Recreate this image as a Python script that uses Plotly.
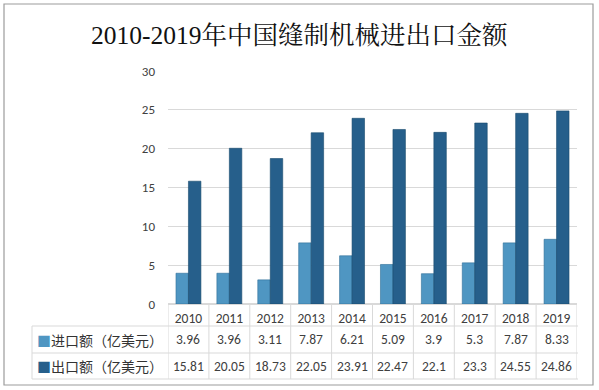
import plotly.graph_objects as go

years = ["2010", "2011", "2012", "2013", "2014", "2015", "2016", "2017", "2018", "2019"]
imports = [3.96, 3.96, 3.11, 7.87, 6.21, 5.09, 3.9, 5.3, 7.87, 8.33]
exports = [15.81, 20.05, 18.73, 22.05, 23.91, 22.47, 22.1, 23.3, 24.55, 24.86]
series_names = ["进口额（亿美元）", "出口额（亿美元）"]
title = "2010-2019年中国缝制机械进出口金额"

W, H = 599, 390
L, R, T, B = 168, 22, 71, 86
pw, ph = W - L - R, H - T - B

def px(x):
    return (x - L) / pw

def py(y):
    return (H - B - y) / ph

c_imp = "#4f96c2"
c_exp = "#265f8b"
grid = "#d9d9d9"
tfont = "Calibri, Carlito, 'Noto Sans CJK SC', 'Open Sans', sans-serif"

n = len(years)
idx = list(range(n))

fig = go.Figure()
fig.add_bar(x=idx, y=imports, name=series_names[0], marker=dict(color=c_imp, line=dict(color="#2f6f98", width=0.6)))
fig.add_bar(x=idx, y=exports, name=series_names[1], marker=dict(color=c_exp, line=dict(color="#184a6c", width=0.6)))

shapes = []
shapes.append(dict(type="rect", xref="paper", yref="paper", x0=px(4), x1=px(593), y0=py(385), y1=py(4),
                   line=dict(color="#9c9c9c", width=1.2), layer="below"))
rows_y = [326, 353, 379]
for yy in rows_y:
    shapes.append(dict(type="line", xref="paper", yref="paper", x0=px(32), x1=px(578), y0=py(yy), y1=py(yy),
                       line=dict(color=grid, width=1)))
for i in range(n + 1):
    shapes.append(dict(type="line", xref="x", yref="paper", x0=i - 0.5, x1=i - 0.5, y0=py(304), y1=py(379),
                       line=dict(color=grid, width=1)))
shapes.append(dict(type="line", xref="paper", yref="paper", x0=px(32), x1=px(32), y0=py(326), y1=py(379),
                   line=dict(color=grid, width=1)))

annotations = []
row_centers = [339.5, 366]
for r, (vals, col, name) in enumerate([(imports, c_imp, series_names[0]), (exports, c_exp, series_names[1])]):
    yc = py(row_centers[r])
    annotations.append(dict(xref="paper", yref="paper", x=px(35), y=yc, xanchor="left", yanchor="middle",
                            text=f"<span style='color:{col}'>■</span>{name}", showarrow=False,
                            font=dict(size=14, color="#333333", family="'Noto Sans CJK SC', sans-serif")))
    for i, v in enumerate(vals):
        annotations.append(dict(xref="x", yref="paper", x=i, y=yc, xanchor="center", yanchor="middle",
                                text=f"{v:g}", showarrow=False,
                                font=dict(size=13.5, color="#404040", family=tfont)))

annotations.append(dict(xref="paper", yref="paper", x=(299 - L) / pw, y=py(35), xanchor="center", yanchor="middle",
                        text=title, showarrow=False,
                        font=dict(size=25.5, color="#111111",
                                  family="'Liberation Serif', 'Noto Serif CJK SC', 'Noto Sans CJK SC', serif")))

fig.update_layout(
    width=W, height=H,
    margin=dict(l=L, r=R, t=T, b=B),
    paper_bgcolor="white", plot_bgcolor="white",
    barmode="group", bargap=0.39, bargroupgap=0,
    showlegend=False,
    shapes=shapes, annotations=annotations,
    xaxis=dict(range=[-0.5, n - 0.5], tickvals=idx, ticktext=years, showgrid=False, showline=False,
               zeroline=False, ticks="",
               tickfont=dict(size=13.5, color="#404040", family=tfont), ticklabelstandoff=4),
    yaxis=dict(range=[0, 30], dtick=5, showgrid=True, gridcolor=grid, gridwidth=1, zeroline=True,
               zerolinecolor=grid, showline=False, ticks="", ticklabelstandoff=12,
               tickfont=dict(size=13, color="#404040", family=tfont)),
)

fig.write_html("out.html", config={"displayModeBar": False},
               post_script="document.body.style.margin='0';document.body.style.overflow='hidden';")
